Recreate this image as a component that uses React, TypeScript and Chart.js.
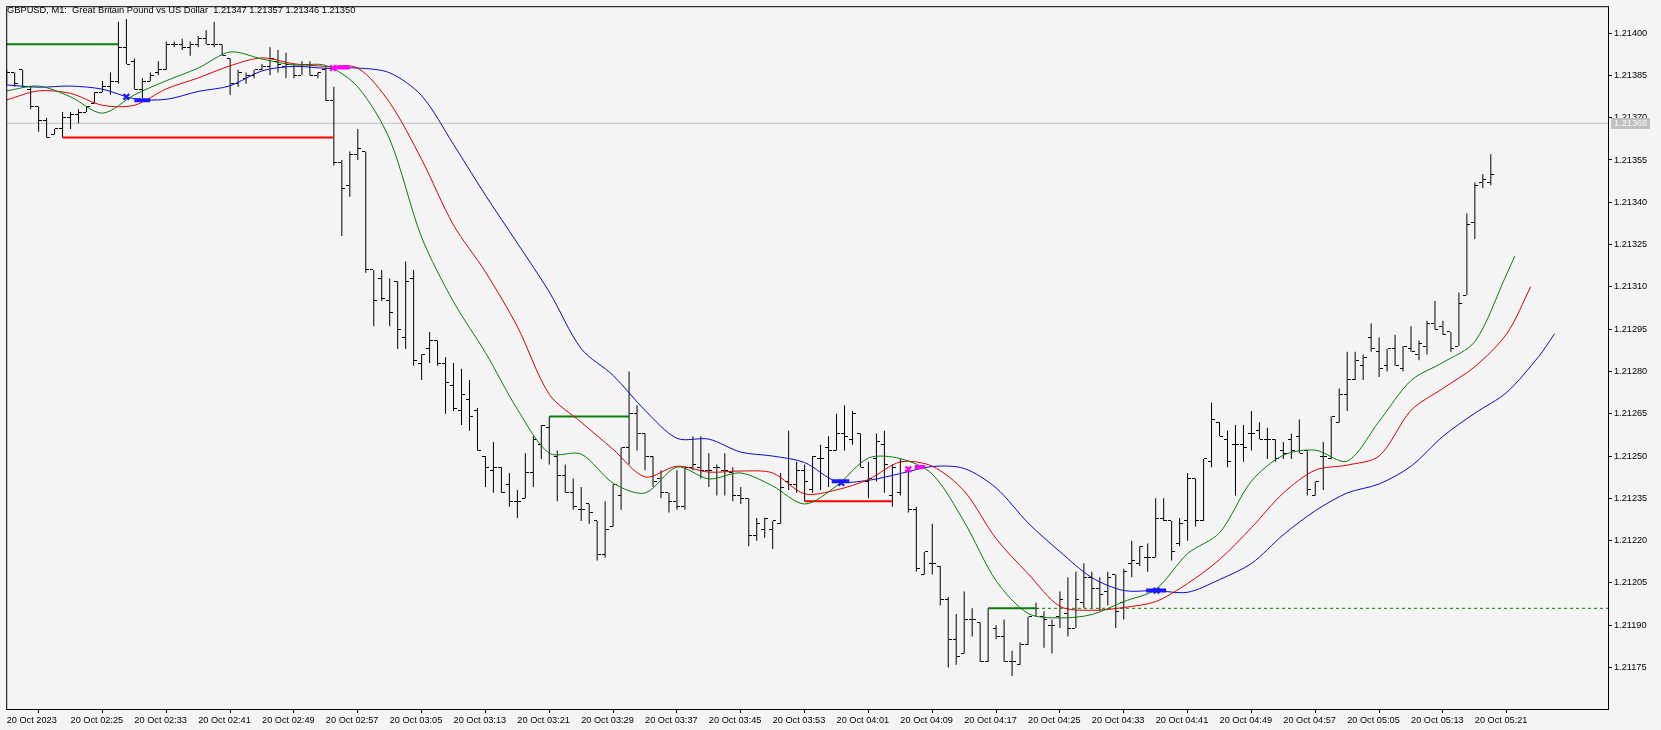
import React, { useEffect, useRef } from "react";
import { Chart, registerables } from "chart.js";

Chart.register(...registerables);

const chartTitle = "GBPUSD, M1:  Great Britain Pound vs US Dollar  1.21347 1.21357 1.21346 1.21350";

const timeTickBars = [0, 8, 16, 24, 32, 40, 48, 56, 64, 72, 80, 88, 96, 104, 112, 120, 128, 136, 144, 152, 160, 168, 176, 184];
const timeTickLabels = [
  "20 Oct 2023", "20 Oct 02:25", "20 Oct 02:33", "20 Oct 02:41", "20 Oct 02:49", "20 Oct 02:57",
  "20 Oct 03:05", "20 Oct 03:13", "20 Oct 03:21", "20 Oct 03:29", "20 Oct 03:37", "20 Oct 03:45",
  "20 Oct 03:53", "20 Oct 04:01", "20 Oct 04:09", "20 Oct 04:17", "20 Oct 04:25", "20 Oct 04:33",
  "20 Oct 04:41", "20 Oct 04:49", "20 Oct 04:57", "20 Oct 05:05", "20 Oct 05:13", "20 Oct 05:21",
];
const priceTicks = [1.21175, 1.2119, 1.21205, 1.2122, 1.21235, 1.2125, 1.21265, 1.2128, 1.21295, 1.2131, 1.21325, 1.2134, 1.21355, 1.2137, 1.21385, 1.214];

const opens = [
  1.21385, 1.21386, 1.21387, 1.2138, 1.21374, 1.21369, 1.21364, 1.21366, 1.2137, 1.21371,
  1.21372, 1.21375, 1.21379, 1.21381, 1.21383, 1.21395, 1.2139, 1.2138, 1.21383, 1.21386,
  1.21387, 1.21396, 1.21396, 1.21395, 1.21396, 1.21398, 1.21396, 1.21396, 1.21391, 1.21382,
  1.21384, 1.21385, 1.21387, 1.21388, 1.2139, 1.21388, 1.21388, 1.21385, 1.21389, 1.21385,
  1.21387, 1.21376, 1.21354, 1.21346, 1.21357, 1.21358, 1.21316, 1.21313, 1.21305, 1.21312,
  1.21292, 1.21313, 1.21283, 1.21288, 1.21291, 1.21283, 1.21275, 1.21266, 1.2127, 1.21266,
  1.2125, 1.21245, 1.21246, 1.2124, 1.21234, 1.21235, 1.21244, 1.21254, 1.2126, 1.2125,
  1.21243, 1.21237, 1.21231, 1.21233, 1.21227, 1.21215, 1.21225, 1.21236, 1.21253, 1.21265,
  1.21258, 1.2125, 1.21242, 1.21237, 1.21234, 1.21232, 1.21246, 1.21246, 1.21245, 1.21246,
  1.21245, 1.21244, 1.21236, 1.21235, 1.21222, 1.21224, 1.21224, 1.21226, 1.21241, 1.2124,
  1.21245, 1.21238, 1.21249, 1.21253, 1.21252, 1.21258, 1.21256, 1.21258, 1.21241, 1.21249,
  1.21254, 1.21236, 1.21237, 1.21245, 1.21231, 1.21208, 1.21212, 1.21211, 1.21199, 1.21185,
  1.2118, 1.21192, 1.21191, 1.21177, 1.21189, 1.21186, 1.21177, 1.21176, 1.21183, 1.21196,
  1.21193, 1.2119, 1.21193, 1.21194, 1.21189, 1.21198, 1.21207, 1.21203, 1.21202, 1.21208,
  1.21198, 1.21212, 1.21212, 1.21214, 1.21214, 1.21228, 1.21227, 1.21219, 1.21227, 1.21242,
  1.21227, 1.21248, 1.21262, 1.21256, 1.21254, 1.21254, 1.21258, 1.21259, 1.21256, 1.21256,
  1.21252, 1.21256, 1.21257, 1.21252, 1.21236, 1.2125, 1.21249, 1.21262, 1.21272, 1.21277,
  1.21282, 1.21292, 1.21287, 1.21282, 1.21288, 1.21281, 1.21288, 1.21286, 1.21289, 1.21297,
  1.21296, 1.21294, 1.21289, 1.21307, 1.21333, 1.21347, 1.21347,
];
const highs = [
  1.21387, 1.21386, 1.21387, 1.21381, 1.21374, 1.2137, 1.21366, 1.21372, 1.21372, 1.21373,
  1.21374, 1.21379, 1.21383, 1.21386, 1.21404, 1.21405, 1.21391, 1.21384, 1.21386, 1.2139,
  1.21397, 1.21397, 1.21398, 1.21397, 1.21399, 1.21401, 1.21404, 1.21396, 1.21391, 1.21387,
  1.21386, 1.21387, 1.21389, 1.21395, 1.21394, 1.21393, 1.21389, 1.2139, 1.2139, 1.21386,
  1.21388, 1.21381, 1.21355, 1.21358, 1.21366, 1.21358, 1.21316, 1.21316, 1.21313, 1.21312,
  1.21319, 1.21316, 1.21286, 1.21294, 1.21291, 1.21285, 1.21283, 1.21281, 1.21277, 1.21267,
  1.2125, 1.21255, 1.21246, 1.21244, 1.21238, 1.21251, 1.21257, 1.21261, 1.21264, 1.21252,
  1.21247, 1.21242, 1.21239, 1.21233, 1.21227, 1.21234, 1.2124, 1.21253, 1.2128, 1.21268,
  1.21258, 1.2125, 1.21245, 1.21237, 1.21245, 1.21246, 1.21257, 1.21257, 1.21251, 1.21247,
  1.21251, 1.21246, 1.21239, 1.21235, 1.21228, 1.21228, 1.21227, 1.21244, 1.21259, 1.21248,
  1.21247, 1.2125, 1.21254, 1.21257, 1.21265, 1.21268, 1.21266, 1.21258, 1.21248, 1.21258,
  1.21259, 1.21247, 1.21249, 1.21246, 1.21232, 1.21216, 1.21226, 1.21211, 1.212, 1.21194,
  1.21202, 1.21196, 1.21191, 1.21196, 1.2119, 1.21192, 1.21181, 1.21184, 1.21193, 1.21198,
  1.21195, 1.21192, 1.21202, 1.21207, 1.21209, 1.21212, 1.21209, 1.21207, 1.21209, 1.21208,
  1.2121, 1.2122, 1.21218, 1.21219, 1.21235, 1.21235, 1.21227, 1.21228, 1.21244, 1.21242,
  1.21249, 1.21269, 1.21262, 1.21259, 1.21261, 1.21261, 1.21266, 1.21262, 1.2126, 1.21256,
  1.21255, 1.21258, 1.21263, 1.21252, 1.21241, 1.21255, 1.21264, 1.21274, 1.21287, 1.21287,
  1.21286, 1.21297, 1.21292, 1.21288, 1.21293, 1.21289, 1.21296, 1.21291, 1.21298, 1.21305,
  1.21298, 1.21294, 1.21308, 1.21336, 1.21347, 1.2135, 1.21357,
];
const lows = [
  1.21382, 1.21381, 1.21381, 1.21373, 1.21365, 1.21363, 1.21364, 1.21363, 1.21366, 1.21368,
  1.21372, 1.21375, 1.21379, 1.21378, 1.21382, 1.21389, 1.2138, 1.21377, 1.21383, 1.21385,
  1.21387, 1.21395, 1.21394, 1.21392, 1.21395, 1.21396, 1.21395, 1.21392, 1.21378, 1.21381,
  1.21382, 1.21384, 1.21387, 1.21385, 1.21386, 1.21384, 1.21384, 1.21385, 1.21385, 1.21384,
  1.21376, 1.21353, 1.21328, 1.21342, 1.21355, 1.21315, 1.21296, 1.21305, 1.21296, 1.21288,
  1.21288, 1.21282, 1.21277, 1.21283, 1.21282, 1.21265, 1.21266, 1.21261, 1.21259, 1.21252,
  1.21239, 1.21237, 1.21237, 1.21232, 1.21228, 1.21235, 1.21239, 1.21249, 1.21247, 1.21234,
  1.21237, 1.21231, 1.21227, 1.21226, 1.21213, 1.21214, 1.21225, 1.21231, 1.21247, 1.21252,
  1.21245, 1.21239, 1.21235, 1.2123, 1.21231, 1.21231, 1.21245, 1.21242, 1.21239, 1.21236,
  1.21236, 1.21234, 1.21233, 1.21218, 1.2122, 1.21221, 1.21217, 1.21226, 1.21238, 1.21237,
  1.21234, 1.21237, 1.21238, 1.21239, 1.21252, 1.21252, 1.21254, 1.21246, 1.21235, 1.21241,
  1.21237, 1.21232, 1.21236, 1.2123, 1.21209, 1.21208, 1.21208, 1.21197, 1.21175, 1.21176,
  1.2118, 1.21186, 1.21177, 1.21177, 1.21185, 1.21177, 1.21172, 1.21176, 1.21183, 1.21193,
  1.21182, 1.2118, 1.21189, 1.21186, 1.21189, 1.21196, 1.21196, 1.21195, 1.21197, 1.21189,
  1.21192, 1.21207, 1.21211, 1.21209, 1.21214, 1.21227, 1.21213, 1.21218, 1.2122, 1.21225,
  1.21227, 1.21246, 1.21257, 1.21246, 1.21236, 1.21248, 1.21252, 1.21256, 1.21249, 1.21248,
  1.21249, 1.21249, 1.21251, 1.21236, 1.21236, 1.21238, 1.21249, 1.21262, 1.21266, 1.21277,
  1.21277, 1.21287, 1.21278, 1.2128, 1.21282, 1.2128, 1.21287, 1.21284, 1.21286, 1.21295,
  1.21293, 1.21287, 1.21289, 1.21307, 1.21327, 1.21345, 1.21346,
];
const closes = [
  1.21386, 1.21382, 1.21381, 1.21374, 1.21369, 1.21363, 1.21366, 1.2137, 1.21371, 1.21372,
  1.21374, 1.21379, 1.21381, 1.21383, 1.21395, 1.21389, 1.2138, 1.21383, 1.21385, 1.21387,
  1.21396, 1.21396, 1.21395, 1.21396, 1.21398, 1.21396, 1.21396, 1.21392, 1.21382, 1.21386,
  1.21385, 1.21387, 1.21388, 1.21391, 1.21389, 1.21389, 1.21385, 1.21389, 1.21385, 1.21386,
  1.21376, 1.21354, 1.21345, 1.21357, 1.21359, 1.21316, 1.21305, 1.21306, 1.21301, 1.21295,
  1.21312, 1.21284, 1.21286, 1.21291, 1.21283, 1.21276, 1.21267, 1.21272, 1.21264, 1.21252,
  1.21246, 1.21246, 1.21237, 1.21234, 1.21234, 1.21244, 1.21256, 1.21261, 1.21264, 1.21243,
  1.21237, 1.21232, 1.21231, 1.2123, 1.21215, 1.21224, 1.2124, 1.21253, 1.21265, 1.21258,
  1.2125, 1.21241, 1.21237, 1.21234, 1.21232, 1.21246, 1.21247, 1.21245, 1.21245, 1.21246,
  1.21245, 1.21236, 1.21235, 1.21222, 1.21226, 1.21228, 1.21227, 1.21239, 1.2124, 1.21245,
  1.21241, 1.2125, 1.21249, 1.21252, 1.21258, 1.21257, 1.21265, 1.21246, 1.21242, 1.21255,
  1.21247, 1.21246, 1.21248, 1.21231, 1.2121, 1.21216, 1.21212, 1.21199, 1.21185, 1.21179,
  1.21192, 1.21192, 1.21177, 1.21196, 1.21186, 1.21177, 1.21177, 1.21183, 1.21193, 1.21196,
  1.21192, 1.2119, 1.21199, 1.21189, 1.21199, 1.21207, 1.21203, 1.21201, 1.21207, 1.21195,
  1.21209, 1.21213, 1.21218, 1.21214, 1.21228, 1.21227, 1.21216, 1.21226, 1.21242, 1.21227,
  1.21249, 1.21263, 1.21257, 1.21248, 1.21254, 1.21253, 1.21258, 1.21256, 1.21256, 1.21249,
  1.21251, 1.21252, 1.21251, 1.21238, 1.21241, 1.2125, 1.21264, 1.21272, 1.21277, 1.21284,
  1.21285, 1.21288, 1.21281, 1.21288, 1.21282, 1.21289, 1.21287, 1.2129, 1.21297, 1.21295,
  1.21293, 1.21288, 1.21304, 1.21332, 1.21346, 1.21348, 1.2135,
];

// Alligator lines (positions are bar indexes incl. forward shift)
const jawBars = [0, 4, 8, 12, 16, 20, 24, 28, 32, 36, 40, 44, 48, 52, 56, 60, 64, 68, 72, 76, 80, 84, 88, 92, 96, 100, 104, 108, 112, 116, 120, 124, 128, 132, 136, 140, 144, 148, 152, 156, 160, 164, 168, 172, 176, 180, 184, 188, 192, 194];
const jawValues = [
  1.213816, 1.213808, 1.213812, 1.213801, 1.213767, 1.213765, 1.213793, 1.213813, 1.213866, 1.213882,
  1.213875, 1.213876, 1.213859, 1.213778, 1.213605, 1.213425, 1.213255, 1.213082, 1.212881, 1.212786,
  1.212662, 1.212563, 1.21256, 1.212514, 1.2125, 1.212477, 1.21241, 1.212414, 1.212438, 1.212463,
  1.212456, 1.212387, 1.212263, 1.212161, 1.212069, 1.212023, 1.212023, 1.212017, 1.212062, 1.212119,
  1.212221, 1.212306, 1.212369, 1.212401, 1.212464, 1.21257, 1.212652, 1.212726, 1.212853, 1.212934,
];
const teethBars = [0, 4, 8, 12, 16, 20, 24, 28, 32, 36, 40, 44, 48, 52, 56, 60, 64, 68, 72, 76, 80, 84, 88, 92, 96, 100, 104, 108, 112, 116, 120, 124, 128, 132, 136, 140, 144, 148, 152, 156, 160, 164, 168, 172, 176, 180, 184, 188, 191];
const teethValues = [
  1.213763, 1.213795, 1.213786, 1.213744, 1.213744, 1.213802, 1.213841, 1.213884, 1.213912, 1.213891,
  1.213882, 1.213876, 1.213753, 1.213552, 1.213319, 1.213153, 1.212959, 1.212719, 1.21262, 1.212524,
  1.212426, 1.212464, 1.212443, 1.212447, 1.21244, 1.212366, 1.21238, 1.212417, 1.212479, 1.212464,
  1.212376, 1.212207, 1.212083, 1.211967, 1.211953, 1.211963, 1.211984, 1.212048, 1.212133, 1.212246,
  1.212369, 1.21245, 1.212468, 1.2125, 1.212662, 1.21274, 1.212817, 1.212934, 1.2131,
];
const lipsBars = [0, 4, 8, 12, 16, 20, 24, 28, 32, 36, 40, 44, 48, 52, 56, 60, 64, 68, 72, 76, 80, 84, 88, 92, 96, 100, 104, 108, 112, 116, 120, 124, 128, 132, 136, 140, 144, 148, 152, 156, 160, 164, 168, 172, 176, 180, 184, 188, 189];
const lipsValues = [
  1.213795, 1.213812, 1.213774, 1.213716, 1.213781, 1.213831, 1.213876, 1.213933, 1.213908, 1.213887,
  1.213885, 1.213809, 1.213623, 1.213276, 1.213047, 1.212867, 1.212666, 1.21251, 1.212507, 1.212404,
  1.212369, 1.212461, 1.212419, 1.21244, 1.212394, 1.21233, 1.212394, 1.212493, 1.212491, 1.212436,
  1.212267, 1.212058, 1.211942, 1.211926, 1.211938, 1.211984, 1.212027, 1.212154, 1.212228, 1.212411,
  1.212503, 1.212521, 1.212482, 1.212623, 1.212768, 1.212832, 1.212906, 1.213146, 1.213209,
];

const bidPrice = 1.21368;

const fractalFrom = [-1, 7, 68, 100, 123];
const fractalTo = [14, 41, 78, 111, 129];
const fractalPrices = [1.21396, 1.21363, 1.21264, 1.21234, 1.21196];
const fractalKinds = ["up", "down", "up", "down", "up"];
const openFractalFrom = 129;
const openFractalPrice = 1.21196;

const signalBars = [15, 40.9, 104.6, 113, 144.1];
const signalPrices = [1.213774, 1.213876, 1.212405, 1.212453, 1.212023];
const signalTailFrom = [16, 41.2, 103.4, 113.8, 142.8];
const signalTailTo = [18, 43, 105.6, 115.1, 145.3];
const signalTailPrices = [1.213762, 1.213878, 1.212411, 1.212461, 1.212023];
const signalKinds = ["buy", "sell", "buy", "sell", "buy"];

const X_MIN = -0.0625;
const X_MAX = 200.6875;
const Y_MIN = 1.211603;
const Y_MAX = 1.2140953;

const FONT = "'Liberation Sans', Arial, sans-serif";
const BG = "#f4f4f4";
const JAW = "#0a0ad2";
const TEETH = "#e00000";
const LIPS = "#0a7d0a";
const UP_FR = "#0a800a";
const DOWN_FR = "#ff0000";
const BUY = "#1a1aff";
const SELL = "#ff00ff";

export default function App() {
  const ref = useRef<HTMLCanvasElement>(null);

  useEffect(() => {
    const canvas = ref.current;
    if (!canvas) return;

    const mkTick = (left: boolean) => {
      const c = document.createElement("canvas");
      c.width = 7;
      c.height = 1;
      const g = c.getContext("2d")!;
      g.fillStyle = "#000";
      g.fillRect(left ? 0 : 4, 0, 3, 1);
      return c;
    };
    const openTick = mkTick(true);
    const closeTick = mkTick(false);

    const barIdx = opens.map((_, i) => i);

    const datasets: any[] = [];

    datasets.push({
      type: "line",
      order: 0,
      data: signalBars.map((b, i) => ({ x: b, y: signalPrices[i] })),
      showLine: false,
      pointStyle: "crossRot",
      pointRadius: 4,
      pointBorderWidth: 2.2,
      pointBorderColor: signalKinds.map((k) => (k === "buy" ? BUY : SELL)),
      pointBackgroundColor: signalKinds.map((k) => (k === "buy" ? BUY : SELL)),
    });
    signalBars.forEach((_, i) => {
      datasets.push({
        type: "line",
        order: 1,
        data: [
          { x: signalTailFrom[i], y: signalTailPrices[i] },
          { x: signalTailTo[i], y: signalTailPrices[i] },
        ],
        borderColor: signalKinds[i] === "buy" ? BUY : SELL,
        borderWidth: 4,
        pointRadius: 0,
      });
    });

    const alligator = (bars: number[], vals: number[], color: string, order: number) => ({
      type: "line",
      order,
      data: bars.map((b, i) => ({ x: b, y: vals[i] })),
      borderColor: color,
      borderWidth: 1,
      pointRadius: 0,
      tension: 0.3,
    });
    datasets.push(alligator(lipsBars, lipsValues, LIPS, 2));
    datasets.push(alligator(teethBars, teethValues, TEETH, 3));
    datasets.push(alligator(jawBars, jawValues, JAW, 4));

    fractalFrom.forEach((f, i) => {
      datasets.push({
        type: "line",
        order: 5,
        data: [
          { x: f, y: fractalPrices[i] },
          { x: fractalTo[i], y: fractalPrices[i] },
        ],
        borderColor: fractalKinds[i] === "up" ? UP_FR : DOWN_FR,
        borderWidth: 2,
        pointRadius: 0,
      });
    });
    datasets.push({
      type: "line",
      order: 5,
      data: [
        { x: openFractalFrom, y: openFractalPrice },
        { x: X_MAX + 1, y: openFractalPrice },
      ],
      borderColor: UP_FR,
      borderWidth: 1,
      borderDash: [3, 3],
      pointRadius: 0,
    });

    datasets.push({
      type: "line",
      order: 6,
      data: barIdx.map((i) => ({ x: i, y: opens[i] })),
      showLine: false,
      pointStyle: openTick,
      pointRadius: 2,
    });
    datasets.push({
      type: "line",
      order: 6,
      data: barIdx.map((i) => ({ x: i, y: closes[i] })),
      showLine: false,
      pointStyle: closeTick,
      pointRadius: 2,
    });

    datasets.push({
      type: "bar",
      order: 7,
      data: barIdx.map((i) => ({ x: i, y: [lows[i], highs[i]] })),
      backgroundColor: "#000",
      borderWidth: 0,
      barThickness: 1,
      inflateAmount: 0,
      grouped: false,
    });

    datasets.push({
      type: "line",
      order: 8,
      data: [
        { x: X_MIN - 1, y: bidPrice },
        { x: X_MAX + 1, y: bidPrice },
      ],
      borderColor: "#c0c0c0",
      borderWidth: 1,
      pointRadius: 0,
    });

    const overlayPlugin = {
      id: "mtOverlay",
      beforeDatasetsDraw(chart: any) {
        chart.ctx.imageSmoothingEnabled = false;
      },
      afterDraw(chart: any) {
        const { ctx, chartArea: a, scales } = chart;
        ctx.save();
        ctx.strokeStyle = "#000";
        ctx.lineWidth = 1;
        ctx.strokeRect(a.left + 0.5, a.top + 0.5, a.right - a.left, a.bottom - a.top);
        const y = scales.y.getPixelForValue(bidPrice);
        ctx.fillStyle = "#c0c0c0";
        ctx.fillRect(a.right + 3, Math.round(y) - 5, 39, 11);
        ctx.fillStyle = "#f8f8f8";
        ctx.font = `9.2px ${FONT}`;
        ctx.textBaseline = "middle";
        ctx.textAlign = "left";
        ctx.fillText(bidPrice.toFixed(5), a.right + 6, Math.round(y) + 0.5);
        ctx.restore();
      },
    };

    const chart = new Chart(canvas, {
      type: "bar",
      data: { datasets },
      options: {
        animation: false,
        responsive: false,
        devicePixelRatio: 1,
        events: [],
        layout: { padding: { top: 3, left: 2, right: 0, bottom: 0 } },
        plugins: {
          legend: { display: false },
          tooltip: { enabled: false },
          title: { display: false },
        },
        scales: {
          x: {
            type: "linear",
            min: X_MIN,
            max: X_MAX,
            offset: false,
            bounds: "data",
            afterBuildTicks: (s: any) => {
              s.ticks = timeTickBars.map((v) => ({ value: v }));
            },
            afterFit: (s: any) => {
              s.height = 21;
              s.paddingLeft = 0;
              s.paddingRight = 0;
            },
            grid: { drawOnChartArea: false, drawTicks: true, tickLength: 4, color: "#000" },
            border: { display: true, color: "#000", width: 1 },
            ticks: {
              autoSkip: false,
              maxRotation: 0,
              minRotation: 0,
              align: "start",
              padding: 2,
              color: "#000",
              font: { family: FONT, size: 9.2 },
              callback: (_v: any, idx: number) => timeTickLabels[idx],
            },
          },
          y: {
            type: "linear",
            position: "right",
            min: Y_MIN,
            max: Y_MAX,
            bounds: "data",
            beginAtZero: false,
            afterBuildTicks: (s: any) => {
              s.ticks = priceTicks.map((v) => ({ value: v }));
            },
            afterFit: (s: any) => {
              s.width = 53;
              s.paddingTop = 0;
              s.paddingBottom = 0;
            },
            grid: { drawOnChartArea: false, drawTicks: true, tickLength: 4, color: "#000" },
            border: { display: true, color: "#000", width: 1 },
            ticks: {
              padding: 2,
              color: "#000",
              font: { family: FONT, size: 9.2 },
              callback: (v: any) => Number(v).toFixed(5),
            },
          },
        },
      } as any,
      plugins: [overlayPlugin],
    } as any);

    return () => chart.destroy();
  }, []);

  return (
    <div
      style={{
        position: "fixed",
        left: 0,
        top: 0,
        width: 1661,
        height: 730,
        background: BG,
        overflow: "hidden",
      }}
    >
      <canvas ref={ref} width={1661} height={730} style={{ display: "block", width: 1661, height: 730 }} />
      <div
        style={{
          position: "absolute",
          left: 7,
          top: 3.5,
          fontFamily: FONT,
          fontSize: "9.3px",
          lineHeight: "12px",
          whiteSpace: "pre",
          color: "#000",
        }}
      >
        {chartTitle}
      </div>
    </div>
  );
}
